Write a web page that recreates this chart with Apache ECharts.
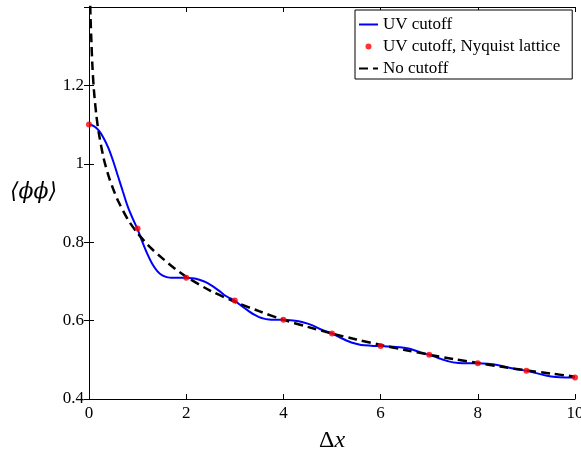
<!DOCTYPE html>
<html>
<head>
<meta charset="utf-8">
<script src="https://cdn.jsdelivr.net/npm/echarts@6/dist/echarts.min.js"></script>
<style>html,body{margin:0;padding:0;background:#fff}#c{width:581px;height:450px}</style>
</head>
<body>
<div id="c"></div>
<script>
// UV cutoff (continuous) curve
var uvX = [0,0.1,0.2,0.3,0.4,0.5,0.6,0.7,0.8,0.9,1.0,1.1,1.2,1.3,1.4,1.5,1.6,1.7,1.8,1.9,2.0,2.1,2.2,2.3,2.4,2.5,2.6,2.7,2.8,2.9,3.0,3.1,3.2,3.3,3.4,3.5,3.6,3.7,3.8,3.9,4.0,4.2,4.4,4.6,4.8,5.0,5.2,5.4,5.6,5.8,6.0,6.2,6.4,6.6,6.8,7.0,7.2,7.4,7.6,7.8,8.0,8.2,8.4,8.6,8.8,9.0,9.2,9.4,9.6,9.8,10.0];
var uvY = [1.100,1.096,1.085,1.066,1.040,1.006,0.967,0.928,0.890,0.860,0.833,0.800,0.770,0.745,0.727,0.716,0.711,0.709,0.709,0.709,0.709,0.708,0.707,0.703,0.698,0.691,0.683,0.674,0.664,0.657,0.651,0.641,0.632,0.623,0.615,0.609,0.605,0.603,0.602,0.602,0.602,0.600,0.596,0.588,0.576,0.567,0.555,0.544,0.538,0.536,0.535,0.534,0.532,0.528,0.520,0.513,0.504,0.496,0.492,0.491,0.491,0.490,0.487,0.481,0.476,0.472,0.466,0.460,0.456,0.455,0.455];
// Nyquist lattice points
var nyX = [0,1,2,3,4,5,6,7,8,9,10];
var nyY = [1.100,0.835,0.709,0.651,0.602,0.567,0.535,0.513,0.491,0.472,0.455];
// No cutoff curve
var ncX = [0.02,0.03,0.05,0.07,0.1,0.15,0.2,0.3,0.4,0.5,0.6,0.8,1.0,1.25,1.5,1.75,2.0,2.5,3.0,3.5,4.0,4.5,5.0,5.5,6.0,6.5,7.0,7.5,8.0,8.5,9.0,9.5,10.0];
var ncY = [1.44,1.38,1.31,1.25,1.19,1.125,1.08,1.015,0.970,0.935,0.905,0.858,0.823,0.788,0.760,0.734,0.712,0.676,0.648,0.624,0.602,0.584,0.567,0.552,0.538,0.525,0.513,0.502,0.492,0.482,0.473,0.465,0.457];
var xTicks = [0,2,4,6,8,10];
var yTickLabels = ['0.4','0.6','0.8','1','1.2'];
var seriesNames = ['UV cutoff','UV cutoff, Nyquist lattice','No cutoff'];

function pairs(xs, ys){ return xs.map(function(x,i){ return [x, ys[i]]; }); }

var FONT = "'Liberation Serif', 'DejaVu Serif', serif";
var chart = echarts.init(document.getElementById('c'), null, {renderer:'canvas'});
var axisLine = {show:true, lineStyle:{color:'#000', width:1}};
var tick = {show:true, inside:true, length:5, lineStyle:{color:'#000', width:1}};
chart.setOption({
  animation:false,
  backgroundColor:'#fff',
  grid:{left:89, right:6, top:7, bottom:51, containLabel:false, outerBoundsMode:'none'},
  xAxis:[{
    type:'value', min:0, max:10, interval:2, position:'bottom',
    axisLine:axisLine, axisTick:tick, splitLine:{show:false},
    axisLabel:{color:'#000', fontFamily:FONT, fontSize:17, margin:6},
    name:'{d|Δ}{x|x}', nameLocation:'middle', nameGap:30,
    nameTextStyle:{rich:{d:{fontFamily:FONT,fontSize:24,color:'#000'},x:{fontFamily:FONT,fontSize:24,fontStyle:'italic',color:'#000'}}}
  },{
    type:'value', min:0, max:10, interval:2, position:'top',
    axisLine:axisLine, axisTick:tick, axisLabel:{show:false}, splitLine:{show:false}
  }],
  yAxis:[{
    type:'value', min:0.4, max:1.4, interval:0.2, position:'left',
    axisLine:axisLine, axisTick:tick, splitLine:{show:false},
    axisLabel:{color:'#000', fontFamily:FONT, fontSize:17, margin:5,
      formatter:function(v){ var i=Math.round((v-0.4)/0.2); return yTickLabels[i] !== undefined ? yTickLabels[i] : ''; }}
  },{
    type:'value', min:0.4, max:1.4, interval:0.2, position:'right',
    axisLine:axisLine, axisTick:tick, axisLabel:{show:false}, splitLine:{show:false}
  }],
  legend:{
    orient:'vertical', left:355, top:10,
    backgroundColor:'#fff', borderColor:'#000', borderWidth:1, borderRadius:0,
    padding:[6,12,2,3], itemGap:5, itemWidth:19, itemHeight:6,
    textStyle:{fontFamily:FONT, fontSize:17, color:'#000'},
    data:[
      {name:seriesNames[0], itemStyle:{opacity:0}},
      {name:seriesNames[1], icon:'circle'},
      {name:seriesNames[2], itemStyle:{opacity:0}}
    ]
  },
  graphic:[{
    type:'text', left:10, top:181,
    style:{text:'⟨ϕϕ⟩', fontFamily:"'DejaVu Serif', serif", fontSize:22, fontStyle:'italic', fill:'#000'}
  }],
  series:[
    {name:seriesNames[0], type:'line', data:pairs(uvX,uvY), symbol:'none', smooth:0.3, z:2,
     lineStyle:{color:'#0000ff', width:2}, itemStyle:{color:'#0000ff'}},
    {name:seriesNames[2], type:'line', data:pairs(ncX,ncY), symbol:'none', smooth:0.3, z:3,
     lineStyle:{color:'#000', width:2.5, type:[9,5]}, itemStyle:{color:'#000'}},
    {name:seriesNames[1], type:'scatter', data:pairs(nyX,nyY), symbol:'circle', symbolSize:6, z:4,
     itemStyle:{color:'#ff0000'}}
  ]
});
</script>
</body>
</html>
